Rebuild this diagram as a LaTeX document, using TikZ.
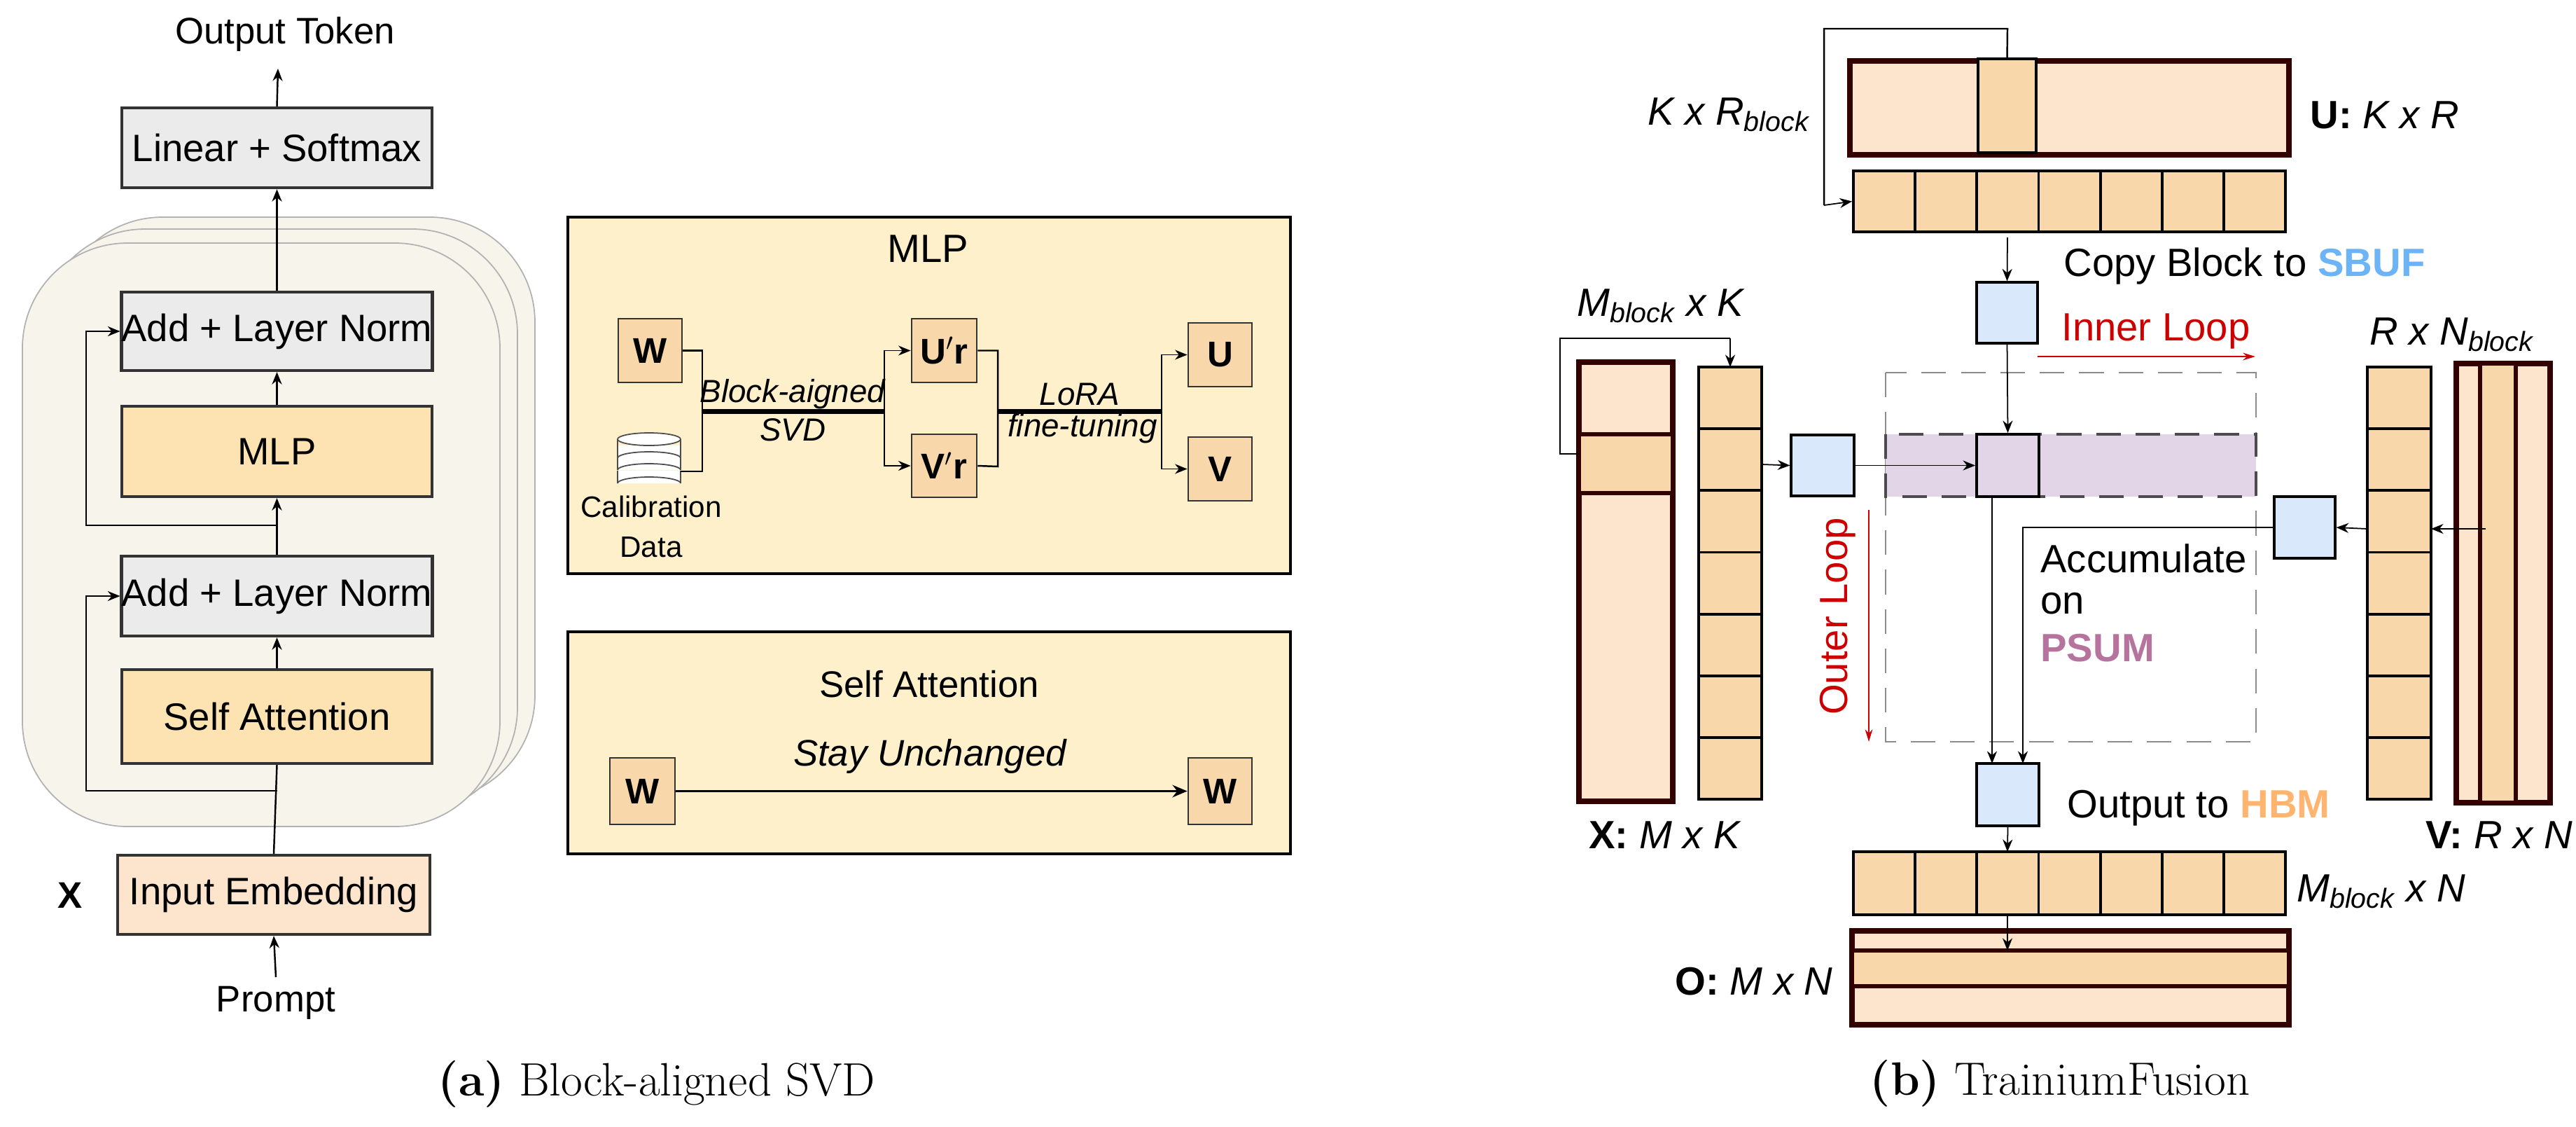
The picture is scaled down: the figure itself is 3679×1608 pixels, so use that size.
\documentclass[tikz,border=0pt]{standalone}
\usepackage{fontspec}
\setsansfont{Liberation Sans}
\usetikzlibrary{arrows.meta}
\definecolor{grayfill}{HTML}{EBEBEB}
\definecolor{yel}{HTML}{FDE3B2}
\definecolor{peach}{HTML}{FDE5CD}
\definecolor{cell}{HTML}{F8D7AA}
\definecolor{panel}{HTML}{FFF0CC}
\definecolor{stackf}{HTML}{F7F4EC}
\definecolor{mbord}{HTML}{330000}
\definecolor{sbuf}{HTML}{DAE8FC}
\definecolor{psum}{HTML}{E1D5E7}
\definecolor{psumt}{HTML}{B5739D}
\definecolor{sbuft}{HTML}{6CB4F5}
\definecolor{hbmt}{HTML}{FFB570}
\definecolor{loopred}{HTML}{CC0000}
\newcommand\pbox[7]{\node[#6,inner sep=0pt,minimum width={(#4-#2)*0.01cm},minimum height={(#5-#3)*0.01cm}] (#1) at ({(#2+#4)/2},{(#3+#5)/2}) {#7};}
\newcommand\blk{\textsubscript{\itshape block}}
\begin{document}
\begin{tikzpicture}[x=0.01cm,y=-0.01cm,
  lbox/.style={draw=black!80,line width=1.2pt,font=\sffamily\fontsize{15.5}{17}\selectfont},
  wbox/.style={draw=black!80,line width=0.8pt,fill=cell,font=\sffamily\bfseries\fontsize{14.5}{16}\selectfont},
  panelbox/.style={draw=black,line width=1.3pt,fill=panel},
  arr/.style={line width=0.7pt,-{Stealth[length=5pt,width=4pt]}},
  ln/.style={line width=0.7pt},
  sarr/.style={line width=0.5pt,-{Stealth[length=5pt,width=4pt]}},
  mat/.style={draw=mbord,line width=2.3pt,fill=peach},
  cl/.style={draw=black,line width=1.1pt,fill=cell},
  sb/.style={draw=black,line width=0.9pt,fill=sbuf},
  rt/.style={font=\sffamily\fontsize{16}{18}\selectfont},
  captxt/.style={font=\fontsize{19}{22}\selectfont}]
\useasboundingbox (0,0) rectangle (3679,1608);
% ===== left: stack
\foreach \dx/\dy in {50/-37,25/-20,0/0}
  \draw[fill=stackf,draw=black!30,line width=0.5pt,rounded corners=1.5cm] ({32+\dx},{347+\dy}) rectangle ({714+\dx},{1180+\dy});
\node[font=\sffamily\fontsize{15}{17}\selectfont] (out) at (407,49) {Output Token};
\pbox{lin}{174}{154}{617}{268}{lbox,fill=grayfill}{Linear + Softmax}
\pbox{aln1}{174}{417}{617}{529}{lbox,fill=grayfill}{Add + Layer Norm}
\pbox{mlp}{174}{580}{617}{709}{lbox,fill=yel}{MLP}
\pbox{aln2}{174}{794}{617}{908}{lbox,fill=grayfill}{Add + Layer Norm}
\pbox{sa}{174}{956}{617}{1090}{lbox,fill=yel}{Self Attention}
\pbox{emb}{168}{1221}{614}{1334}{lbox,fill=peach}{Input Embedding}
\node[font=\sffamily\bfseries\fontsize{15}{17}\selectfont] (xl) at (100,1278) {X};
\node[font=\sffamily\fontsize{15}{17}\selectfont] (prompt) at (394,1432) {Prompt};
\coordinate (pin) at (394,1395);
\coordinate (otop) at (397,98);
\draw[arr] (pin) -- (emb.south);
\draw[ln] (emb.north) -- (sa.south);
\draw[arr] (sa.north) -- (aln2.south);
\draw[arr] (aln2.north) -- (mlp.south);
\draw[arr] (mlp.north) -- (aln1.south);
\draw[arr] (aln1.north) -- (lin.south);
\draw[arr] (lin.north) -- (otop);
\coordinate (j1) at (396,750);
\coordinate (j2) at (396,1129);
\draw[arr] (j1) -| (123,473) -- (aln1.west |- 0,473);
\draw[arr] (j2) -| (123,851) -- (aln2.west |- 0,851);
% ===== MLP panel
\pbox{mlpp}{811}{310}{1843}{819}{panelbox}{}
\node[font=\sffamily\fontsize{16}{18}\selectfont] (mlpt) at (1325,355) {MLP};
\pbox{w1}{883}{455}{974}{546}{wbox}{W}
\pbox{ur}{1302}{455}{1395}{546}{wbox}{U$^{\prime}$r}
\pbox{vr}{1302}{620}{1395}{710}{wbox}{V$^{\prime}$r}
\pbox{u}{1697}{461}{1788}{552}{wbox}{U}
\pbox{v}{1697}{624}{1788}{715}{wbox}{V}
% database
\begin{scope}[line width=0.5pt,draw=black!70]
\foreach \yy in {672,653,636}{
  \fill[white] (882,\yy) rectangle (972,\yy+18);
  \draw[fill=white] (882,\yy+18) arc[start angle=180,end angle=360,x radius=45,y radius=9];
  \draw (882,\yy) -- (882,\yy+18) (972,\yy) -- (972,\yy+18);}
\draw[fill=white] (927,627) ellipse[x radius=45,y radius=9];
\draw (882,627) -- (882,636) (972,627) -- (972,636);
\end{scope}
\coordinate (db) at (972,673);
\node[font=\sffamily\fontsize{12}{14}\selectfont,align=center] (calib) at (930,752) {Calibration\\[2pt]Data};
\draw[ln] (w1.east) -| (1003,673) -- (db);
\draw[line width=2pt] (1003,587) -- (1263,587);
\draw[sarr] (1263,587) |- (ur.west);
\draw[sarr] (1263,587) |- (vr.west);
\node[font=\sffamily\itshape\fontsize{13}{15}\selectfont] (bsvd) at (1132,563) {Block-aigned};
\node[font=\sffamily\itshape\fontsize{13}{15}\selectfont] (svd) at (1132,614) {SVD};
\draw[ln] (ur.east) -| (1425,666) -- (vr.east);
\draw[line width=2pt] (1425,587) -- (1659,587);
\draw[sarr] (1659,587) |- (u.west);
\draw[sarr] (1659,587) |- (v.west);
\node[font=\sffamily\itshape\fontsize{13}{15}\selectfont] (lora) at (1542,563) {LoRA};
\node[font=\sffamily\itshape\fontsize{13}{15}\selectfont] (ft) at (1546,612) {fine-tuning};
% ===== Self Attention panel
\pbox{sap}{811}{902}{1843}{1219}{panelbox}{}
\node[font=\sffamily\fontsize{15}{17}\selectfont] (sat) at (1327,977) {Self Attention};
\node[font=\sffamily\itshape\fontsize{15}{17}\selectfont] (stay) at (1328,1080) {Stay Unchanged};
\pbox{wa}{871}{1082}{964}{1177}{wbox}{W}
\pbox{wb}{1697}{1082}{1788}{1177}{wbox}{W}
\draw[line width=1.1pt,-{Stealth[length=6pt,width=5pt]}] (wa.east) -- (wb.west);
\node[captxt] (capa) at (938,1548) {\textbf{(a)} Block-aligned SVD};
% ===== right panel
\draw[draw=black!45,dash pattern=on 10pt off 6pt,line width=0.8pt] (2693,532) rectangle (3222,1059);
\draw[fill=psum,draw=black!70,dash pattern=on 10pt off 6pt,line width=1.1pt] (2693,620) rectangle (3222,709);
% U
\pbox{U}{2642}{87}{3269}{221}{mat}{}
\pbox{Uc}{2825}{84}{2908}{218}{cl}{}
\node[rt,anchor=east] (krb) at (2597,164) {\itshape K x R\blk};
\node[rt,anchor=west] (ukr) at (3287,164) {\textbf{U:} \itshape K x R};
\pbox{Us}{2647}{244}{3264}{331}{cl}{}
\foreach \i in {1,...,6} \draw[line width=1.1pt] ({2647+\i*88.14},244) -- ({2647+\i*88.14},331);
\draw[ln] (Uc.north) -- (2867,41) -| (2605,293);
\draw[sarr] (2605,293) -- (Us.west);
\pbox{sbt}{2823}{403}{2910}{490}{sb}{}
\draw[sarr] (2867,339) -- (sbt.north);
\node[rt,anchor=west] (copy) at (2935,380) {Copy Block to \textcolor{sbuft}{\textbf{SBUF}}};
\node[rt,anchor=west,text=loopred] (inner) at (2932,473) {Inner Loop};
\coordinate (ia) at (2910,509); \coordinate (ib) at (3221,509);
\draw[loopred,line width=0.8pt,-{Stealth[length=5pt,width=3pt]}] (ia) -- (ib);
\pbox{ctr}{2823}{620}{2912}{709}{draw=black,line width=1.1pt,fill=psum}{}
\draw[sarr] (sbt.south) -- (ctr.north);
% X
\pbox{X}{2255}{517}{2389}{1144}{mat}{}
\pbox{Xr}{2255}{620}{2389}{704}{draw=mbord,line width=1.6pt,fill=cell}{}
\node[rt,anchor=west] (mbk) at (2240,437) {\itshape M\blk{} x K};
\pbox{Xs}{2426}{524}{2516}{1141}{cl}{}
\foreach \i in {1,...,6} \draw[line width=1.1pt] (2426,{524+\i*88.14}) -- (2516,{524+\i*88.14});
\draw[ln] (2255,648) -- (2228,648) |- (2471,483);
\draw[sarr] (2471,483) -- (2471,524);
\pbox{sbl}{2558}{621}{2648}{708}{sb}{}
\draw[sarr] (2516,663) -- (sbl.west);
\draw[sarr] (sbl.east) -- (ctr.west);
\node[rt,text=loopred,rotate=90] (outer) at (2625,880) {Outer Loop};
\coordinate (oa) at (2669,728); \coordinate (obb) at (2669,1059);
\draw[loopred,line width=0.8pt,-{Stealth[length=5pt,width=3pt]}] (oa) -- (obb);
\node[rt,anchor=west] (xmk) at (2257,1192) {\textbf{X:} \itshape M x K};
% V
\pbox{V}{3508}{519}{3642}{1146}{mat}{}
\pbox{Vc}{3542}{519}{3593}{1146}{draw=mbord,line width=1.6pt,fill=cell}{}
\pbox{Vs}{3381}{524}{3472}{1141}{cl}{}
\foreach \i in {1,...,6} \draw[line width=1.1pt] (3381,{524+\i*88.14}) -- (3472,{524+\i*88.14});
\node[rt,anchor=west] (rnb) at (3372,478) {\itshape R x N\blk};
\node[rt,anchor=west] (vrn) at (3452,1192) {\textbf{V:} \itshape R x N};
\pbox{sbr}{3248}{709}{3335}{797}{sb}{}
\draw[sarr] (3550,755) -- (3472,755);
\draw[sarr] (3381,755) -- (sbr.east);
% output
\pbox{ob}{2823}{1090}{2912}{1179}{sb}{}
\draw[sarr] (2845,709) -- (2845,1090);
\draw[sarr] (3248,753) -| (2889,1090);
\node[rt,anchor=west] (acc) at (2902,797) {Accumulate};
\node[rt,anchor=west] (on) at (2902,862) {on};
\node[rt,anchor=west,text=psumt] (ps) at (2902,925) {\textbf{PSUM}};
\node[rt,anchor=west] (oth) at (2940,1154) {Output to \textcolor{hbmt}{\textbf{HBM}}};
\pbox{Os}{2647}{1216}{3264}{1306}{cl}{}
\foreach \i in {1,...,6} \draw[line width=1.1pt] ({2647+\i*88.14},1216) -- ({2647+\i*88.14},1306);
\draw[sarr] (ob.south) -- (2867,1216);
\node[rt,anchor=west] (mbn) at (3268,1273) {\itshape M\blk{} x N};
\pbox{O}{2645}{1329}{3269}{1463}{mat}{}
\pbox{Or}{2645}{1357}{3269}{1408}{draw=mbord,line width=1.6pt,fill=cell}{}
\draw[sarr] (2867,1306) -- (2867,1357);
\node[rt,anchor=east] (omn) at (2630,1401) {\textbf{O:} \itshape M x N};
\node[captxt] (capb) at (2942,1547) {\textbf{(b)} TrainiumFusion};
\end{tikzpicture}
\end{document}
